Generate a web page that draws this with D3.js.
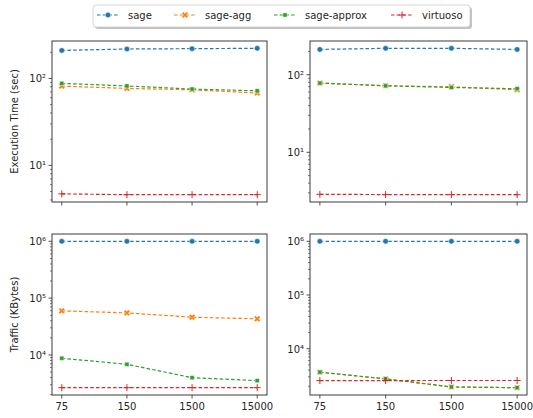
<!doctype html>
<html lang="en">
<head>
<meta charset="UTF-8">
<title>Execution time and traffic</title>
<style>
    body { margin: 0; background: #fff; }
    text { font-family: "DejaVu Sans", sans-serif; fill: #262626; }
</style>
</head>
<body>
<svg id="chart" width="533" height="418"></svg>
<script src="https://d3js.org/d3.v7.min.js"></script>
<script>
    // categories on the x axis
    const categories = ["75", "150", "1500", "15000"];
    const seriesNames = ["sage", "sage-agg", "sage-approx", "virtuoso"];
    const colors = ["#1f77b4", "#ff7f0e", "#2ca02c", "#d62728"];

    // values per series: sage, sage-agg, sage-approx, virtuoso
    const timeLeft = [
        [210, 218, 220, 222],
        [81.6, 76.8, 74, 68],
        [87.7, 82, 75.4, 72],
        [4.7, 4.6, 4.6, 4.6]
    ];
    const timeRight = [
        [212, 219, 219, 212],
        [78, 72, 70, 64],
        [78, 72, 68.5, 66],
        [2.87, 2.85, 2.84, 2.84]
    ];
    const trafficLeft = [
        [1.0e6, 1.0e6, 1.0e6, 1.0e6],
        [59700, 55000, 46200, 43200],
        [8740, 6850, 3980, 3530],
        [2655, 2655, 2660, 2660]
    ];
    const trafficRight = [
        [1.0e6, 1.0e6, 1.0e6, 1.0e6],
        [3660, 2740, 1940, 1880],
        [3660, 2740, 1940, 1880],
        [2550, 2550, 2560, 2560]
    ];

    const svg = d3.select("#chart");

    const panels = [
        {data: timeLeft, x0: 52, x1: 267, y0: 41, y1: 202, ylabel: "Execution Time (sec)", xlabels: false},
        {data: timeRight, x0: 310, x1: 527, y0: 41, y1: 202, ylabel: null, xlabels: false},
        {data: trafficLeft, x0: 52, x1: 267, y0: 234, y1: 395, ylabel: "Traffic (KBytes)", xlabels: true},
        {data: trafficRight, x0: 310, x1: 527, y0: 234, y1: 395, ylabel: null, xlabels: true}
    ];

    const markers = [
        {type: d3.symbolCircle, size: 24, rot: 0, stroke: false},
        {type: d3.symbolCross, size: 26, rot: 45, stroke: false},
        {type: d3.symbolSquare, size: 18, rot: 0, stroke: false},
        {type: d3.symbolPlus, size: 18, rot: 0, stroke: true}
    ];

    const supers = {"-": "⁻", "0": "⁰", "1": "¹", "2": "²", "3": "³", "4": "⁴", "5": "⁵", "6": "⁶", "7": "⁷", "8": "⁸", "9": "⁹"};

    function drawMarker(g, i, color) {
        let m = markers[i];
        let path = g.append("path")
            .attr("d", d3.symbol().type(m.type).size(m.size))
            .attr("transform", "rotate(" + m.rot + ")");
        if (m.stroke) {
            path.attr("fill", "none").attr("stroke", color).attr("stroke-width", 1);
        } else {
            path.attr("fill", color).attr("stroke", "#fff").attr("stroke-width", 0.5);
        }
    }

    panels.forEach(function (p) {
        let all = p.data.flat();
        let lo = Math.log10(d3.min(all)), hi = Math.log10(d3.max(all));
        let pad = (hi - lo) * 0.05;

        let x = d3.scalePoint()
            .domain(categories)
            .range([p.x0, p.x1])
            .padding(0.15);

        let y = d3.scaleLog()
            .domain([Math.pow(10, lo - pad), Math.pow(10, hi + pad)])
            .range([p.y1, p.y0]);

        let g = svg.append("g");

        // ticks on log axis
        let major = [], minor = [];
        for (let k = Math.floor(lo - pad); k <= Math.ceil(hi + pad); k++) {
            for (let m = 1; m < 10; m++) {
                let v = m * Math.pow(10, k);
                if (v < y.domain()[0] || v > y.domain()[1]) continue;
                if (m === 1) major.push(k); else minor.push(v);
            }
        }

        g.selectAll(".minor")
            .data(minor)
            .enter().append("line")
            .attr("x1", p.x0).attr("x2", p.x0 - 2)
            .attr("y1", (d) => y(d)).attr("y2", (d) => y(d))
            .attr("stroke", "#262626").attr("stroke-width", 0.6);

        g.selectAll(".major")
            .data(major)
            .enter().append("line")
            .attr("x1", p.x0).attr("x2", p.x0 - 3.5)
            .attr("y1", (k) => y(Math.pow(10, k))).attr("y2", (k) => y(Math.pow(10, k)))
            .attr("stroke", "#262626").attr("stroke-width", 0.8);

        g.selectAll(".ylab")
            .data(major)
            .enter().append("text")
            .attr("x", p.x0 - 6)
            .attr("y", (k) => y(Math.pow(10, k)) + 4)
            .attr("text-anchor", "end")
            .attr("font-size", "10px")
            .text((k) => "10" + String(k).split("").map((c) => supers[c]).join(""));

        // x ticks
        g.selectAll(".xt")
            .data(categories)
            .enter().append("line")
            .attr("x1", (d) => x(d)).attr("x2", (d) => x(d))
            .attr("y1", p.y1).attr("y2", p.y1 + 3.5)
            .attr("stroke", "#262626").attr("stroke-width", 0.8);

        if (p.xlabels) {
            g.selectAll(".xl")
                .data(categories)
                .enter().append("text")
                .attr("x", (d) => x(d))
                .attr("y", p.y1 + 15)
                .attr("text-anchor", "middle")
                .attr("font-size", "10px")
                .text((d) => d);
        }

        if (p.ylabel) {
            g.append("text")
                .attr("transform", "translate(18," + ((p.y0 + p.y1) / 2) + ") rotate(-90)")
                .attr("text-anchor", "middle")
                .attr("font-size", "10px")
                .text(p.ylabel);
        }

        // series
        let line = d3.line()
            .x((d, i) => x(categories[i]))
            .y((d) => y(d));

        p.data.forEach(function (vals, s) {
            g.append("path")
                .attr("d", line(vals))
                .attr("fill", "none")
                .attr("stroke", colors[s])
                .attr("stroke-width", 1.2)
                .attr("stroke-dasharray", "3.5,2.2");

            vals.forEach(function (v, i) {
                let mg = g.append("g")
                    .attr("transform", "translate(" + x(categories[i]) + "," + y(v) + ")");
                drawMarker(mg, s, colors[s]);
            });
        });

        // frame
        g.append("rect")
            .attr("x", p.x0).attr("y", p.y0)
            .attr("width", p.x1 - p.x0).attr("height", p.y1 - p.y0)
            .attr("fill", "none")
            .attr("stroke", "#262626")
            .attr("stroke-width", 0.9);
    });

    // legend
    let legend = svg.append("g");
    legend.append("rect")
        .attr("x", 95).attr("y", 7).attr("width", 377).attr("height", 22)
        .attr("rx", 3).attr("fill", "#999").attr("opacity", 0.6);
    legend.append("rect")
        .attr("x", 93).attr("y", 5).attr("width", 377).attr("height", 22)
        .attr("rx", 3).attr("fill", "#fff").attr("stroke", "#ccc").attr("stroke-width", 0.8);

    let legendX = [108, 185, 285, 402];
    seriesNames.forEach(function (name, s) {
        let lg = legend.append("g")
            .attr("transform", "translate(" + legendX[s] + ",15)");
        lg.append("line")
            .attr("x1", -11).attr("x2", 11)
            .attr("stroke", colors[s])
            .attr("stroke-width", 1.2)
            .attr("stroke-dasharray", "3.5,2.2");
        drawMarker(lg, s, colors[s]);
        lg.append("text")
            .attr("x", 20).attr("y", 3.5)
            .attr("font-size", "10px")
            .text(name);
    });
</script>
</body>
</html>
